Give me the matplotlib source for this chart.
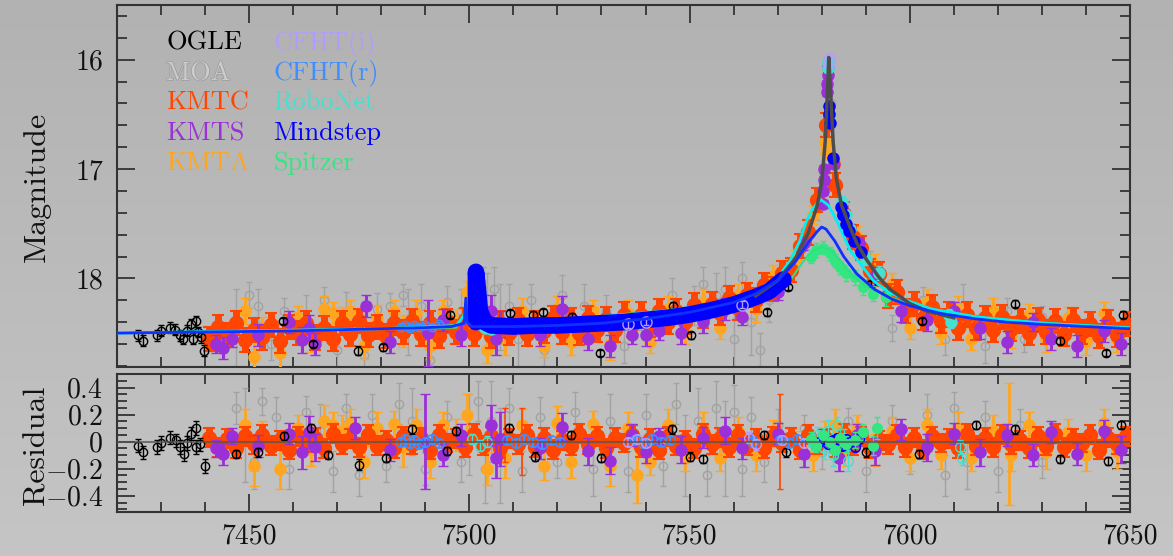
import numpy as np
import matplotlib
matplotlib.use('Agg')
import matplotlib.pyplot as plt
from matplotlib.ticker import MultipleLocator, FuncFormatter
from matplotlib.colors import LinearSegmentedColormap
import matplotlib.patheffects as pe

plt.rcParams['font.family'] = ['cmr10', 'DejaVu Serif']
plt.rcParams['mathtext.fontset'] = 'cm'
plt.rcParams['axes.formatter.use_mathtext'] = True

## data  (t = HJD-2450000, mag, err)

# model curves
model_main = [(7420, 18.50), (7440, 18.49), (7460, 18.48), (7480, 18.46), (7490, 18.45), (7496, 18.44),
              (7498.8, 18.41), (7499.2, 18.18), (7499.5, 18.40), (7500.5, 18.44), (7503, 18.44), (7510, 18.44),
              (7520, 18.43), (7530, 18.41), (7540, 18.37), (7550, 18.31), (7560, 18.22), (7565, 18.14),
              (7570, 18.02), (7574, 17.85), (7577, 17.67), (7579, 17.57), (7580, 17.53), (7581, 17.55),
              (7583, 17.66), (7585, 17.80), (7588, 17.96), (7592, 18.10), (7596, 18.19), (7600, 18.25),
              (7607, 18.32), (7615, 18.37), (7622, 18.40), (7630, 18.42), (7640, 18.44), (7650, 18.46)]
model_ground = [(7565, 18.16), (7570, 18.02), (7574, 17.82), (7577, 17.58), (7579, 17.33), (7580, 17.12),
                (7580.8, 16.75), (7581.3, 16.30), (7581.6, 15.98), (7582.0, 16.28), (7582.6, 16.75),
                (7583.3, 17.08), (7584.5, 17.33), (7586.4, 17.53), (7588, 17.68), (7590.2, 17.83),
                (7593, 17.99), (7595.5, 18.10), (7600, 18.23), (7604, 18.30), (7610, 18.36)]
model_cyan = [(7420, 18.50), (7480, 18.46), (7497, 18.43), (7499.6, 18.30), (7500.2, 18.22), (7500.8, 18.36),
              (7502, 18.40), (7520, 18.38), (7540, 18.32), (7555, 18.24), (7565, 18.12), (7570, 17.99),
              (7572.8, 17.84), (7575, 17.66), (7576.5, 17.48), (7578, 17.36), (7579.8, 17.28), (7581.5, 17.33),
              (7583.4, 17.47), (7586.4, 17.74), (7591.7, 18.02), (7595, 18.12), (7599.3, 18.20), (7605, 18.28),
              (7615, 18.35), (7630, 18.41), (7650, 18.45)]
model_green = [(7420, 18.50), (7497, 18.45), (7499.8, 18.25), (7500.4, 18.42), (7502, 18.44), (7560, 18.24),
               (7568, 18.12), (7572.8, 18.02), (7575.7, 17.85), (7578, 17.75), (7580, 17.71), (7582, 17.74),
               (7584.1, 17.83), (7587, 17.97), (7590.2, 18.08), (7595.5, 18.17), (7602, 18.27),
               (7615, 18.36), (7650, 18.46)]

# OGLE
ogle = [(7424.8, 18.52, 0.05), (7426, 18.57, 0.05), (7429, 18.52, 0.05), (7430.1, 18.48, 0.05),
        (7432, 18.45, 0.05), (7433.2, 18.47, 0.05), (7434.3, 18.52, 0.05), (7435, 18.55, 0.05),
        (7436, 18.48, 0.05), (7436.9, 18.42, 0.05), (7437.3, 18.55, 0.05), (7437.9, 18.39, 0.05),
        (7438.5, 18.49, 0.05), (7439, 18.54, 0.05), (7439.8, 18.66, 0.05), (7457.8, 18.39, 0.03),
        (7464.6, 18.60, 0.03), (7474.8, 18.66, 0.04), (7480.5, 18.63, 0.03), (7495.6, 18.33, 0.03),
        (7509.2, 18.32, 0.03), (7514.5, 18.33, 0.03), (7516.8, 18.31, 0.03), (7523.2, 18.35, 0.03),
        (7529.7, 18.68, 0.03), (7546.3, 18.25, 0.03), (7550.4, 18.52, 0.03), (7567.5, 18.31, 0.03),
        (7572.4, 18.08, 0.03), (7581.7, 16.46, 0.02), (7591.2, 18.05, 0.03), (7602.7, 18.39, 0.03),
        (7623.9, 18.23, 0.03), (7634, 18.57, 0.03), (7644.6, 18.68, 0.03), (7648.4, 18.33, 0.03)]
ogle_res = [(7424.8, -0.03, 0.05), (7426, -0.08, 0.05), (7429, -0.04, 0.05), (7429.9, -0.01, 0.05),
            (7432, 0.03, 0.05), (7433.4, 0.01, 0.05), (7434.3, -0.04, 0.05), (7435.2, -0.09, 0.05),
            (7436, -0.01, 0.05), (7436.9, 0.06, 0.05), (7437.9, 0.10, 0.05), (7438, -0.04, 0.05),
            (7438.9, -0.02, 0.05), (7439.9, -0.18, 0.05), (7447, -0.09, 0.03), (7452, -0.08, 0.03),
            (7458, 0.04, 0.03), (7464, 0.10, 0.03), (7468, -0.10, 0.03), (7475, -0.17, 0.04),
            (7481, -0.12, 0.03), (7487, 0.09, 0.03), (7495, -0.07, 0.03), (7497, 0.08, 0.03),
            (7509, 0.10, 0.03), (7515, -0.11, 0.03), (7523, 0.05, 0.03), (7530, -0.12, 0.03),
            (7546, 0.09, 0.03), (7550, -0.11, 0.03), (7553, -0.13, 0.03), (7567, 0.05, 0.03),
            (7572, -0.08, 0.03), (7582, 0.02, 0.02), (7590, -0.08, 0.03), (7602, -0.09, 0.03),
            (7615, 0.12, 0.03), (7624, 0.09, 0.03), (7634, -0.13, 0.03), (7645, -0.14, 0.03),
            (7648, 0.12, 0.03)]

# MOA
moa = [(7447, 18.45, 0.35), (7450, 18.15, 0.12), (7452, 18.25, 0.15), (7455, 18.60, 0.15), (7458, 18.30, 0.12),
       (7463, 18.35, 0.20), (7467, 18.20, 0.12), (7470, 18.65, 0.15), (7472, 18.30, 0.18), (7476, 18.70, 0.15),
       (7479, 18.28, 0.15), (7482, 18.25, 0.12), (7485, 18.15, 0.10), (7486, 18.40, 0.30), (7489, 18.25, 0.20),
       (7491, 18.75, 0.12), (7495, 18.22, 0.15), (7498, 18.30, 0.20), (7503, 18.05, 0.15), (7504, 18.30, 0.35),
       (7505.5, 18.10, 0.20), (7507, 18.35, 0.30), (7509, 18.25, 0.20), (7511, 18.55, 0.25), (7514, 18.20, 0.15),
       (7517, 18.65, 0.15), (7521, 18.15, 0.18), (7526, 18.25, 0.20), (7531, 18.30, 0.15), (7535, 18.62, 0.15),
       (7539, 18.35, 0.12), (7546, 18.15, 0.15), (7551, 18.25, 0.18), (7553, 18.05, 0.15), (7556, 18.15, 0.20),
       (7558, 18.10, 0.20), (7560, 18.55, 0.25), (7562, 18.00, 0.15), (7564, 18.40, 0.30), (7566, 18.65, 0.15),
       (7568, 18.20, 0.20), (7575, 17.75, 0.10), (7579, 17.35, 0.12), (7582, 16.40, 0.10), (7591, 17.85, 0.10),
       (7596, 18.45, 0.12), (7603, 18.20, 0.12), (7608, 18.55, 0.15), (7612, 18.25, 0.20), (7617, 18.62, 0.15),
       (7622, 18.30, 0.12), (7626, 18.55, 0.12), (7630, 18.35, 0.10)]
moa_res = [(7447, 0.25, 0.12), (7449, 0.05, 0.35), (7451, -0.15, 0.20), (7453, 0.30, 0.10), (7456, 0.18, 0.15),
           (7459, -0.20, 0.15), (7463, 0.22, 0.12), (7466, 0.08, 0.20), (7469, -0.22, 0.15), (7472, 0.25, 0.10),
           (7475, -0.25, 0.15), (7478, 0.20, 0.15), (7481, -0.18, 0.12), (7484, 0.28, 0.15), (7487, 0.15, 0.25),
           (7490, -0.20, 0.12), (7495, 0.18, 0.12), (7498, -0.15, 0.15), (7500, 0.05, 0.30), (7502, 0.30, 0.15),
           (7503.5, -0.20, 0.25), (7505, 0.15, 0.30), (7507, -0.10, 0.35), (7509, 0.25, 0.15), (7512, -0.22, 0.15),
           (7516, 0.18, 0.15), (7520, -0.15, 0.12), (7524, 0.22, 0.15), (7528, -0.20, 0.20), (7532, 0.15, 0.20),
           (7536, -0.22, 0.15), (7540, 0.20, 0.15), (7544, -0.18, 0.15), (7547, 0.28, 0.15), (7549, -0.10, 0.30),
           (7552, 0.15, 0.25), (7554, -0.25, 0.15), (7556, 0.25, 0.20), (7558, -0.05, 0.35), (7560, 0.22, 0.20),
           (7562, -0.20, 0.20), (7564, 0.18, 0.15), (7567, -0.15, 0.15), (7570, 0.12, 0.12), (7576, 0.10, 0.10),
           (7580, -0.08, 0.12), (7586, 0.15, 0.10), (7590, -0.22, 0.15), (7596, 0.15, 0.12), (7600, -0.12, 0.12),
           (7604, 0.20, 0.15), (7608, -0.25, 0.15), (7610, 0.25, 0.12), (7613, -0.15, 0.20), (7617, 0.18, 0.12),
           (7620, -0.22, 0.15), (7625, 0.12, 0.12), (7630, -0.15, 0.12)]

# KMTC (dense, typical error 0.11 mag / 0.07 in residual)
kmtc = [(7441, 18.55), (7443, 18.44), (7445, 18.52), (7447, 18.41), (7449, 18.56), (7451, 18.47), (7453, 18.54),
        (7455, 18.43), (7457, 18.57), (7459, 18.44), (7461, 18.50), (7463, 18.41), (7465, 18.54), (7467, 18.45),
        (7469, 18.55), (7471, 18.41), (7473, 18.51), (7475, 18.39), (7477, 18.52), (7479, 18.44), (7481, 18.53),
        (7483, 18.41), (7485, 18.49), (7487, 18.39), (7489, 18.51), (7491, 18.41), (7493, 18.53), (7495, 18.39),
        (7497, 18.49), (7499, 18.38), (7501, 18.51), (7503, 18.40), (7505, 18.53), (7507, 18.41), (7509, 18.50),
        (7511, 18.38), (7513, 18.51), (7515, 18.41), (7517, 18.48), (7519, 18.36), (7521, 18.49), (7523, 18.38),
        (7525, 18.50), (7527, 18.36), (7529, 18.47), (7531, 18.37), (7533, 18.47), (7535, 18.33), (7537, 18.43),
        (7539, 18.33), (7541, 18.43), (7543, 18.30), (7545, 18.40), (7547, 18.30), (7549, 18.40), (7551, 18.24),
        (7553, 18.34), (7555, 18.23), (7557, 18.32), (7559, 18.18), (7561, 18.27), (7563, 18.15), (7565, 18.20),
        (7567, 18.06), (7569, 18.10), (7571, 17.95), (7573, 17.92), (7575, 17.70), (7577, 17.58), (7579, 17.28),
        (7581, 16.60), (7583, 17.15), (7585, 17.41), (7587, 17.62), (7589, 17.72), (7591, 17.93), (7593, 17.96),
        (7595, 18.16), (7597, 18.12), (7599, 18.30), (7601, 18.23), (7603, 18.36), (7605, 18.26), (7607, 18.39),
        (7609, 18.33), (7611, 18.45), (7613, 18.33), (7615, 18.45), (7617, 18.36), (7619, 18.47), (7621, 18.35),
        (7623, 18.46), (7625, 18.39), (7627, 18.50), (7629, 18.38), (7631, 18.49), (7633, 18.39), (7635, 18.51),
        (7637, 18.38), (7639, 18.49), (7641, 18.42), (7643, 18.53), (7645, 18.40), (7647, 18.52), (7649, 18.42)]
kmtc_res = [0.03, -0.04, 0.02, -0.05, 0.04, -0.02, 0.05, -0.03, 0.01, -0.06,
            0.04, -0.01, 0.03, -0.05, 0.06, -0.02, 0.02, -0.04, 0.05, -0.03,
            0.01, -0.05, 0.04, -0.02, 0.03, -0.06, 0.05, -0.01, 0.02, -0.04,
            0.06, -0.03, 0.04, -0.05, 0.02, -0.02, 0.05, -0.04, 0.03, -0.06,
            0.01, -0.03, 0.06, -0.02, 0.04, -0.05, 0.03, -0.01, 0.05, -0.04,
            0.02, -0.06, 0.04, -0.03, 0.01, -0.05, 0.06, -0.02, 0.03, -0.04,
            0.05, -0.03, 0.02, -0.05, 0.04, -0.01, 0.03, -0.06, 0.05, -0.02,
            0.02, -0.04, 0.06, -0.03, 0.04, -0.05, 0.01, -0.02, 0.05, -0.04,
            0.03, -0.06, 0.04, -0.01, 0.02, -0.05, 0.06, -0.03, 0.03, -0.04,
            0.05, -0.02, 0.01, -0.05, 0.04, -0.03, 0.06, -0.04, 0.02, -0.01,
            0.05, -0.06, 0.03, -0.02, 0.04]
kmtc_err = 0.11
kmtc_res_err = 0.07
kmtc_res_wide = [(7508, 0.05, 0.20), (7512, 0.0, 0.25), (7570.5, 0.0, 0.35)]

# KMTS
kmts = [(7442.5, 18.60, 0.08), (7444, 18.64, 0.10), (7446, 18.55, 0.08), (7452, 18.52, 0.10), (7459, 18.40, 0.10),
        (7462, 18.56, 0.12), (7463.5, 18.45, 0.12), (7465, 18.60, 0.10), (7476.5, 18.25, 0.10), (7482, 18.58, 0.10),
        (7490.5, 18.50, 0.30), (7494, 18.38, 0.10), (7498, 18.52, 0.10), (7505, 18.30, 0.15), (7506, 18.55, 0.15),
        (7507, 18.42, 0.12), (7516, 18.52, 0.10), (7521, 18.28, 0.12), (7527, 18.55, 0.10), (7532, 18.62, 0.10),
        (7537, 18.52, 0.08), (7540, 18.52, 0.10), (7543, 18.48, 0.08), (7548, 18.50, 0.10), (7553, 18.40, 0.10),
        (7558, 18.28, 0.10), (7562, 18.35, 0.08), (7570, 18.12, 0.08), (7576, 17.68, 0.06), (7580.3, 17.32, 0.04),
        (7580.4, 17.20, 0.04), (7580.5, 17.10, 0.04), (7580.6, 17.00, 0.04), (7581.2, 16.30, 0.03),
        (7581.3, 16.22, 0.03), (7581.4, 16.14, 0.03), (7581.5, 16.07, 0.03), (7582.8, 16.95, 0.04),
        (7584.5, 17.35, 0.05), (7586.5, 17.55, 0.05), (7588.5, 17.68, 0.06), (7592, 17.98, 0.08), (7598, 18.30, 0.10),
        (7604, 18.38, 0.10), (7610, 18.30, 0.08), (7616, 18.45, 0.10), (7622, 18.58, 0.10), (7628, 18.40, 0.08),
        (7632, 18.55, 0.10), (7638, 18.62, 0.10), (7644, 18.48, 0.10), (7648, 18.60, 0.10)]
kmts_res = [(7442.5, -0.05, 0.06), (7444, -0.09, 0.08), (7446, 0.04, 0.06), (7452, -0.03, 0.08), (7459, 0.06, 0.08),
            (7462, -0.08, 0.12), (7463.5, 0.07, 0.12), (7465, -0.04, 0.10), (7474, 0.10, 0.08), (7482, -0.06, 0.08),
            (7490, 0.0, 0.35), (7494, -0.10, 0.08), (7498, 0.05, 0.08), (7505, 0.12, 0.15), (7506, -0.12, 0.15),
            (7507, 0.02, 0.20), (7516, -0.05, 0.08), (7521, 0.11, 0.10), (7527, -0.07, 0.10), (7532, -0.14, 0.10),
            (7537, 0.05, 0.08), (7540, -0.08, 0.08), (7543, 0.04, 0.06), (7548, -0.06, 0.10), (7553, 0.03, 0.08),
            (7558, 0.08, 0.10), (7562, -0.05, 0.08), (7570, 0.06, 0.08), (7576, -0.09, 0.10), (7580, 0.03, 0.06),
            (7584, -0.12, 0.10), (7588, 0.05, 0.08), (7592, -0.07, 0.10), (7598, 0.09, 0.08), (7604, -0.04, 0.10),
            (7610, 0.06, 0.08), (7616, -0.08, 0.10), (7622, 0.05, 0.08), (7628, -0.10, 0.08), (7632, 0.07, 0.08),
            (7638, -0.09, 0.08), (7644, 0.08, 0.08), (7648, -0.06, 0.10)]

# KMTA
kmta = [(7449, 18.30, 0.12), (7451, 18.72, 0.15), (7453, 18.45, 0.10), (7457, 18.68, 0.15), (7461, 18.35, 0.10),
        (7464, 18.55, 0.12), (7467, 18.28, 0.12), (7469, 18.32, 0.10), (7471, 18.38, 0.12), (7473, 18.30, 0.10),
        (7476, 18.62, 0.12), (7479, 18.36, 0.12), (7483, 18.30, 0.10), (7485, 18.48, 0.15), (7488, 18.32, 0.12),
        (7491, 18.62, 0.12), (7494, 18.30, 0.10), (7497, 18.40, 0.12), (7499.5, 18.12, 0.10), (7504, 18.65, 0.12),
        (7508, 18.55, 0.15), (7512, 18.30, 0.12), (7517, 18.62, 0.10), (7520, 18.28, 0.12), (7523, 18.58, 0.12),
        (7528, 18.30, 0.10), (7532, 18.60, 0.15), (7536, 18.32, 0.12), (7541, 18.58, 0.10), (7545, 18.28, 0.12),
        (7549, 18.50, 0.10), (7553, 18.22, 0.12), (7557, 18.45, 0.10), (7561, 18.15, 0.10), (7565, 18.28, 0.12),
        (7569, 17.98, 0.10), (7574, 17.82, 0.08), (7578, 17.42, 0.08), (7579.7, 17.25, 0.06), (7580.8, 16.75, 0.06),
        (7580.9, 16.85, 0.06), (7583, 16.95, 0.08), (7585, 17.40, 0.08), (7588, 17.62, 0.10), (7592, 17.88, 0.10),
        (7596, 18.05, 0.10), (7600, 18.45, 0.10), (7604, 18.22, 0.12), (7607, 18.50, 0.10), (7611, 18.28, 0.12),
        (7614, 18.55, 0.10), (7619, 18.30, 0.12), (7623, 18.52, 0.12), (7627, 18.33, 0.10), (7631, 18.55, 0.12),
        (7636, 18.36, 0.10), (7640, 18.58, 0.12), (7644, 18.32, 0.10), (7647, 18.55, 0.12)]
kmta_res = [(7449, 0.12, 0.12), (7451, -0.18, 0.15), (7453, 0.05, 0.10), (7457, -0.20, 0.15), (7461, 0.10, 0.10),
            (7464, -0.06, 0.12), (7467, 0.15, 0.12), (7469, 0.12, 0.10), (7471, 0.08, 0.12), (7473, 0.14, 0.10),
            (7476, -0.15, 0.12), (7479, 0.10, 0.12), (7483, 0.13, 0.10), (7485, -0.04, 0.15), (7488, 0.12, 0.12),
            (7491, -0.15, 0.12), (7494, 0.12, 0.10), (7497, 0.05, 0.12), (7499.5, 0.20, 0.15), (7504, -0.20, 0.12),
            (7508, -0.12, 0.15), (7512, 0.12, 0.12), (7517, -0.18, 0.10), (7520, 0.14, 0.12), (7523, -0.15, 0.12),
            (7528, 0.13, 0.10), (7532, -0.18, 0.15), (7536, 0.10, 0.12), (7538, -0.25, 0.20), (7541, -0.15, 0.10),
            (7545, 0.12, 0.12), (7549, -0.12, 0.10), (7553, 0.10, 0.12), (7557, -0.12, 0.10), (7561, 0.08, 0.10),
            (7565, -0.10, 0.12), (7569, 0.06, 0.10), (7574, 0.0, 0.08), (7578, -0.10, 0.12), (7580.8, 0.05, 0.10),
            (7583, 0.12, 0.12), (7585, -0.08, 0.10), (7588, 0.10, 0.10), (7592, -0.06, 0.12), (7596, 0.08, 0.10),
            (7600, -0.12, 0.10), (7604, 0.12, 0.12), (7607, -0.10, 0.10), (7611, 0.10, 0.12), (7614, -0.12, 0.10),
            (7619, 0.08, 0.12), (7622.5, -0.02, 0.45), (7623, -0.10, 0.12), (7627, 0.12, 0.10), (7631, -0.08, 0.12),
            (7636, 0.07, 0.10), (7640, -0.10, 0.12), (7644, 0.14, 0.10), (7647, -0.08, 0.12)]

# CFHT(i), CFHT(r)
cfht_i = [(7581.55, 15.99, 0.02), (7581.6, 16.03, 0.02), (7536, 18.42, 0.03), (7540, 18.40, 0.03), (7562, 18.24, 0.03)]
cfht_i_res = [(7536, 0.0, 0.03), (7538, 0.02, 0.03), (7540, -0.01, 0.03), (7563.5, 0.03, 0.04),
              (7565, -0.02, 0.04), (7571, 0.01, 0.03), (7576, -0.01, 0.03)]
cfht_r = [(7484.5, 18.44, 0.02), (7485.5, 18.43, 0.02), (7486.5, 18.45, 0.02), (7487.5, 18.43, 0.02),
          (7488.5, 18.44, 0.02), (7490, 18.43, 0.02), (7491.5, 18.44, 0.02), (7493, 18.42, 0.02)]
cfht_r_res = [(7484.5, 0.0, 0.03), (7485.5, 0.02, 0.03), (7486.5, -0.01, 0.03), (7487.5, 0.01, 0.03),
              (7488.5, -0.02, 0.03), (7490, 0.0, 0.03), (7491.5, 0.02, 0.03), (7493, -0.01, 0.03),
              (7508.5, 0.01, 0.03), (7510.5, -0.01, 0.03), (7512.5, 0.02, 0.03), (7514.5, 0.0, 0.03),
              (7516.5, -0.02, 0.03), (7518.5, 0.01, 0.03), (7520.5, 0.0, 0.03), (7537.5, 0.01, 0.03),
              (7539.5, -0.01, 0.03), (7541.5, 0.02, 0.03), (7543.5, 0.0, 0.03), (7545.5, 0.01, 0.03),
              (7564.5, 0.0, 0.04), (7570.5, 0.01, 0.03), (7572.5, -0.01, 0.03), (7574.5, 0.02, 0.03)]

# RoboNet
robonet = [(7500.5, 18.38, 0.04), (7501.5, 18.30, 0.04), (7502.5, 18.42, 0.04), (7503.5, 18.45, 0.04),
           (7505, 18.46, 0.04), (7581.4, 16.02, 0.03), (7581.5, 16.08, 0.03), (7584.5, 17.30, 0.05),
           (7585.5, 17.42, 0.05), (7586.5, 17.55, 0.05), (7590, 17.82, 0.06), (7593, 17.95, 0.06),
           (7609, 18.33, 0.05), (7609.3, 18.40, 0.05)]
robonet_res = [(7500.5, 0.02, 0.04), (7502.5, -0.03, 0.04), (7504, 0.0, 0.04), (7578, 0.0, 0.06),
               (7579, 0.05, 0.06), (7580.5, -0.05, 0.08), (7581.5, 0.08, 0.08), (7582.5, -0.10, 0.08),
               (7583.5, 0.12, 0.06), (7585, 0.03, 0.06), (7586, -0.14, 0.08), (7611.5, -0.04, 0.05),
               (7611.8, -0.12, 0.05)]

# Mindstep
mindstep_band = [(7501.5, 18.40), (7501.5, 17.94), (7501.9, 18.08), (7502.4, 18.30), (7503.5, 18.40),
                 (7505, 18.43), (7510, 18.44), (7515, 18.43), (7520, 18.43), (7525, 18.42), (7530, 18.41),
                 (7535, 18.40), (7540, 18.38), (7545, 18.36), (7550, 18.33), (7555, 18.29), (7560, 18.24),
                 (7565, 18.17), (7568, 18.12), (7571.3, 18.01)]
mindstep_peak = [(7581.6, 16.42, 0.03), (7581.7, 16.50, 0.03), (7581.8, 16.58, 0.03), (7582.6, 16.90, 0.03),
                 (7584.3, 17.35, 0.03), (7584.9, 17.42, 0.03), (7585.5, 17.50, 0.03), (7586.2, 17.57, 0.03),
                 (7587.4, 17.66, 0.03), (7589.0, 17.76, 0.03)]
mindstep_res = [(7579.5, 0.00, 0.03), (7580.5, 0.02, 0.03), (7581.5, -0.02, 0.03), (7582.5, 0.01, 0.03),
                (7583.5, 0.03, 0.03), (7584.5, -0.03, 0.03), (7585.5, 0.02, 0.03), (7586.5, 0.0, 0.03),
                (7587.5, -0.04, 0.03), (7588.5, 0.02, 0.03)]

# Spitzer
spitzer = [(7577.5, 17.80, 0.06), (7578.8, 17.74, 0.06), (7580.3, 17.72, 0.06), (7581.9, 17.77, 0.06),
           (7583.0, 17.84, 0.06), (7584.1, 17.90, 0.06), (7585.5, 17.95, 0.07), (7587.5, 17.99, 0.07),
           (7589.4, 18.08, 0.07), (7591.7, 18.14, 0.07), (7594.7, 18.17, 0.08)]
spitzer_res = [(7577.5, 0.02, 0.05), (7578.8, -0.03, 0.05), (7580.3, 0.05, 0.05), (7581.9, 0.0, 0.05),
               (7583.0, -0.06, 0.06), (7584.1, 0.03, 0.06), (7585.5, -0.02, 0.06), (7587.5, 0.01, 0.06),
               (7589.4, 0.07, 0.06), (7591.7, -0.03, 0.07), (7592.5, 0.10, 0.08)]

labels = [('OGLE', '#000000'), ('MOA', '#cdcdcd'), ('KMTC', '#ff4500'), ('KMTS', '#9b30d9'), ('KMTA', '#ffa620'),
          ('CFHT(i)', '#b49cff'), ('CFHT(r)', '#3f8fff'), ('RoboNet', '#45e0d0'), ('Mindstep', '#0000ff'),
          ('Spitzer', '#33e680')]

c_ogle, c_moa, c_kmtc, c_kmts, c_kmta = '#000000', '#a2a2a2', '#ff4500', '#9b30d9', '#ffa620'
c_cfi, c_cfr, c_robo, c_mind, c_spz = '#b49cff', '#3f8fff', '#45e0d0', '#0000ff', '#33e680'


def pts(ax, data, color, ms=5, filled=False, lw=1.0, cap=2.5, z=2, err=None):
    d = np.array(data, dtype=float)
    e = d[:, 2] if err is None else err
    ax.errorbar(d[:, 0], d[:, 1], yerr=e, fmt='o', ms=ms, mfc=color if filled else 'none',
                mec=color, ecolor=color, elinewidth=lw, capsize=cap, capthick=lw, mew=1.0, zorder=z)


def line(ax, data, color, lw, z, **kw):
    d = np.array(data, dtype=float)
    ax.plot(d[:, 0], d[:, 1], color=color, lw=lw, zorder=z, **kw)


fig = plt.figure(figsize=(11.73, 5.56), dpi=100)
bg = fig.add_axes([0, 0, 1, 1], zorder=-10)
bg.imshow(np.linspace(0, 1, 256).reshape(-1, 1), aspect='auto',
          cmap=LinearSegmentedColormap.from_list('bg', ['#b2b2b2', '#c5c5c5']), extent=(0, 1, 0, 1))
bg.axis('off')

ax1 = fig.add_axes([117 / 1173, 1 - 367 / 556, 1013 / 1173, 362 / 556])
ax2 = fig.add_axes([117 / 1173, 1 - 512 / 556, 1013 / 1173, 138 / 556])

# ---- top panel
pts(ax1, moa, c_moa, ms=6, z=2)
pts(ax1, kmta, c_kmta, ms=8, filled=True, lw=2.2, cap=3.5, z=3)
k = np.array(kmtc, dtype=float)
ax1.errorbar(k[:, 0], k[:, 1], yerr=kmtc_err, fmt='o', ms=10, color=c_kmtc, elinewidth=5, capsize=4,
             capthick=1.5, zorder=4)
pts(ax1, kmts, c_kmts, ms=8, filled=True, lw=2.2, cap=3.5, z=4.5)
pts(ax1, ogle, c_ogle, ms=6, z=5)
pts(ax1, cfht_r, c_cfr, ms=6, lw=1.2, z=5)
pts(ax1, robonet, c_robo, ms=8, filled=True, z=5)
pts(ax1, spitzer, c_spz, ms=7, filled=True, z=6)
line(ax1, model_green, '#30e080', 1.5, 7)
line(ax1, model_cyan, '#00f0f0', 2.0, 7)
line(ax1, mindstep_band, c_mind, 12, 8, solid_capstyle='round', solid_joinstyle='round')
pts(ax1, mindstep_peak, c_mind, ms=8, filled=True, lw=1.5, z=8)
pts(ax1, cfht_i, c_cfi, ms=8, z=8)
line(ax1, model_ground, '#4d4d4d', 2.5, 9)
line(ax1, model_main, '#1030ff', 2.0, 10)

ax1.set_xlim(7420, 7650)
ax1.set_ylim(18.81, 15.5)
ax1.yaxis.set_major_locator(MultipleLocator(1))
ax1.yaxis.set_minor_locator(MultipleLocator(0.2))
ax1.yaxis.set_major_formatter(FuncFormatter(lambda v, p: '%d' % round(v)))
ax1.tick_params(labelbottom=False)

for i, (name, col) in enumerate(labels):
    x = 0.0484 if i < 5 else 0.154
    y = 0.895 - 0.083 * (i % 5)
    t = ax1.text(x, y, name, color=col, fontsize=19, transform=ax1.transAxes, va='center', ha='left', zorder=20)
    if name == 'MOA':
        t.set_path_effects([pe.withStroke(linewidth=1.0, foreground='#9a9a9a')])

# ---- residual panel
pts(ax2, moa_res, c_moa, ms=6, z=2)
pts(ax2, kmta_res, c_kmta, ms=8, filled=True, lw=2.0, cap=3.5, z=3)
ax2.errorbar(k[:, 0], kmtc_res, yerr=kmtc_res_err, fmt='o', ms=10, color=c_kmtc, elinewidth=5, capsize=4,
             capthick=1.5, zorder=4)
pts(ax2, kmts_res, c_kmts, ms=8, filled=True, lw=2.0, cap=3.5, z=4.5)
pts(ax2, kmtc_res_wide, c_kmtc, ms=4, filled=True, lw=1.2, z=4)
pts(ax2, ogle_res, c_ogle, ms=6, z=5)
pts(ax2, cfht_r_res, c_cfr, ms=7, lw=1.5, z=5)
pts(ax2, cfht_i_res, c_cfi, ms=7, lw=1.2, z=5)
pts(ax2, robonet_res, c_robo, ms=7, z=6)
pts(ax2, mindstep_res, c_mind, ms=7, z=6)
pts(ax2, spitzer_res, c_spz, ms=7, filled=True, z=6)
ax2.axhline(0, color='#555555', lw=1.5, alpha=0.75, zorder=10)

ax2.set_xlim(7420, 7650)
ax2.set_ylim(-0.52, 0.5)
ax2.yaxis.set_major_locator(MultipleLocator(0.2))
ax2.yaxis.set_minor_locator(MultipleLocator(0.05))
ax2.yaxis.set_major_formatter(FuncFormatter(lambda v, p: '$%g$' % round(v, 2)))
ax2.xaxis.set_major_formatter(FuncFormatter(lambda v, p: '%d' % round(v)))

for ax in (ax1, ax2):
    ax.set_facecolor('none')
    ax.xaxis.set_major_locator(MultipleLocator(50))
    ax.xaxis.set_minor_locator(MultipleLocator(10))
    ax.tick_params(which='both', direction='in', top=True, right=True, color='#333333', width=1.3,
                   labelsize=20, labelcolor='#111111')
    ax.tick_params(which='major', length=13, pad=10)
    ax.tick_params(which='minor', length=7)
    for s in ax.spines.values():
        s.set_color('#333333')
        s.set_linewidth(1.5)
ax2.tick_params(axis='x', which='major', pad=8)

fig.text(37 / 1173, 1 - 187 / 556, 'Magnitude', rotation=90, ha='center', va='center', fontsize=23,
         color='#111111')
fig.text(37 / 1173, 1 - 445 / 556, 'Residual', rotation=90, ha='center', va='center', fontsize=23,
         color='#111111')

fig.savefig('out.png', dpi=100)
